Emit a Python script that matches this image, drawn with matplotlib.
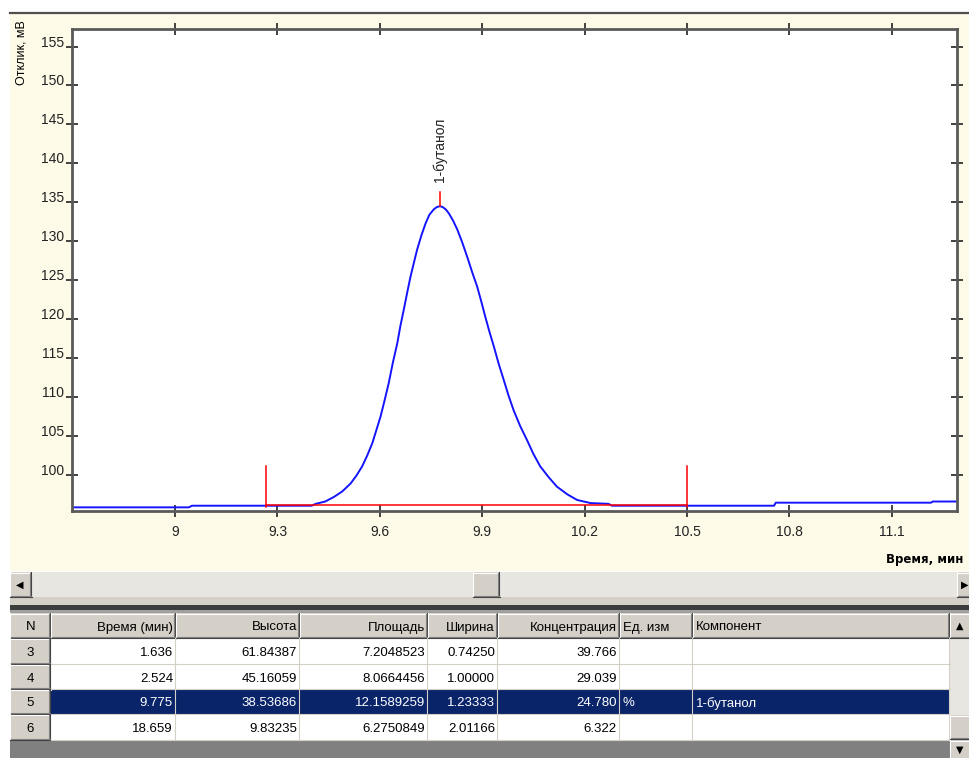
import matplotlib
matplotlib.use("Agg")
import matplotlib.pyplot as plt
from matplotlib.patches import Rectangle

plt.rcParams['font.family'] = ['Liberation Sans', 'DejaVu Sans']

# хроматограмма, точки (мин, мВ)
trace_time = [8.70, 9.04, 9.05, 9.40, 9.412, 9.44, 9.466, 9.49, 9.514, 9.531,
              9.548, 9.563, 9.578, 9.590, 9.602, 9.614, 9.626, 9.638, 9.651,
              9.660, 9.670, 9.680, 9.690, 9.700, 9.709, 9.722, 9.734, 9.745,
              9.758, 9.767, 9.776, 9.784, 9.793, 9.802, 9.814, 9.827, 9.841,
              9.856, 9.870, 9.885, 9.897, 9.909, 9.921, 9.934, 9.948, 9.963,
              9.977, 9.992, 10.011, 10.031, 10.050, 10.070, 10.095, 10.119,
              10.150, 10.178, 10.217, 10.270, 10.28, 10.755, 10.76, 11.215,
              11.22, 11.29]
trace_signal = [95.85, 95.85, 96.06, 96.06, 96.3, 96.6, 97.2, 97.9, 98.9, 99.9,
                101.1, 102.5, 104.1, 105.8, 107.5, 109.6, 111.8, 114.4, 116.9,
                119.1, 121.2, 123.4, 125.5, 127.3, 128.9, 130.8, 132.3, 133.4,
                134.1, 134.4, 134.5, 134.4, 134.1, 133.6, 132.7, 131.5, 129.9,
                128.0, 126.1, 124.2, 122.3, 120.3, 118.4, 116.5, 114.3, 112.2,
                110.2, 108.3, 106.3, 104.5, 102.7, 101.1, 99.7, 98.5,
                97.5, 96.8, 96.4, 96.3, 96.06, 96.06, 96.45, 96.45,
                96.6, 96.6]

peak_name = '1-бутанол'
apex_time = 9.776
apex_height = 134.5
apex_mark_top = 136.3
peak_start = 9.265
peak_end = 10.50
baseline_level = 96.15
mark_bottom = 95.9
mark_top = 101.15

x_ticks = [9.0, 9.3, 9.6, 9.9, 10.2, 10.5, 10.8, 11.1]
x_tick_labels = ['9', '9.3', '9.6', '9.9', '10.2', '10.5', '10.8', '11.1']
y_ticks = [100, 105, 110, 115, 120, 125, 130, 135, 140, 145, 150, 155]

# таблица пиков
col_names = ['N', 'Время (мин)', 'Высота', 'Площадь', 'Ширина',
             'Концентрация', 'Ед. изм', 'Компонент']
peak_n = ['3', '4', '5', '6']
peak_time = ['1.636', '2.524', '9.775', '18.659']
peak_height = ['61.84387', '45.16059', '38.53686', '9.83235']
peak_area = ['7.2048523', '8.0664456', '12.1589259', '6.2750849']
peak_width = ['0.74250', '1.00000', '1.23333', '2.01166']
peak_conc = ['39.766', '29.039', '24.780', '6.322']
peak_unit = ['', '', '%', '']
peak_comp = ['', '', '1-бутанол', '']
selected = 2

W, H = 970, 758
BEIGE = '#FDFAE8'
FACE = '#D4D0C8'
NAVY = '#0A246A'

fig = plt.figure(figsize=(W / 100, H / 100), dpi=100, facecolor='white')

# фон окна в пикселях
bg = fig.add_axes([0, 0, 1, 1], zorder=0)
bg.set_xlim(0, W)
bg.set_ylim(H, 0)
bg.axis('off')


def rect(x0, y0, x1, y1, fc, ec='none', lw=0.7):
    bg.add_patch(Rectangle((x0, y0), x1 - x0, y1 - y0, fc=fc, ec=ec, lw=lw))


def button(x0, y0, x1, y1):
    rect(x0, y0, x1, y1, FACE)
    bg.plot([x0, x1], [y0 + 0.5, y0 + 0.5], color='white', lw=0.8)
    bg.plot([x0 + 0.5, x0 + 0.5], [y0, y1], color='white', lw=0.8)
    bg.plot([x0, x1], [y1 - 0.5, y1 - 0.5], color='#404040', lw=0.8)
    bg.plot([x1 - 0.5, x1 - 0.5], [y0, y1], color='#404040', lw=0.8)
    bg.plot([x0 + 1, x1 - 1], [y1 - 1.5, y1 - 1.5], color='#808080', lw=0.8)
    bg.plot([x1 - 1.5, x1 - 1.5], [y0 + 1, y1 - 1], color='#808080', lw=0.8)


rect(10, 12, W, 571, BEIGE)
bg.plot([10, W], [13, 13], color='#505050', lw=1.6)

# горизонтальная полоса прокрутки
rect(10, 572, W, 597, '#E8E6E0')
button(10, 572, 32, 597)
bg.text(20, 584.5, '◀', fontsize=7, ha='center', va='center', family='DejaVu Sans')
button(473, 572, 500, 597)
button(957, 572, W + 5, 597)
bg.text(965, 584.5, '▶', fontsize=7, ha='center', va='center', family='DejaVu Sans')
rect(10, 597, W, 605, FACE)
rect(10, 605, W, 610, '#3C3C3C')
rect(10, 610, W, 613, '#A0A0A0')

# таблица
col_x = [10, 51, 176, 300, 428, 498, 620, 693, 950]
row_y = [613, 638, 664, 689, 714, 740]
right_cols = [1, 2, 3, 4, 5]
columns = [peak_n, peak_time, peak_height, peak_area, peak_width,
           peak_conc, peak_unit, peak_comp]

for j, name in enumerate(col_names):
    x0, x1 = col_x[j], col_x[j + 1]
    button(x0, row_y[0], x1, row_y[1])
    if j == 0:
        bg.text((x0 + x1) / 2, 626, name, fontsize=9.5, ha='center', va='center_baseline')
    elif j in right_cols:
        bg.text(x1 - 3, 626, name, fontsize=9.5, ha='right', va='center_baseline')
    else:
        bg.text(x0 + 3, 626, name, fontsize=9.5, ha='left', va='center_baseline')

for i in range(len(peak_n)):
    y0, y1 = row_y[i + 1], row_y[i + 2]
    yc = (y0 + y1) / 2 + 0.5
    row_fc = NAVY if i == selected else 'white'
    rect(col_x[1], y0, col_x[-1], y1, row_fc)
    button(col_x[0], y0, col_x[1], y1)
    bg.plot([col_x[1], col_x[-1]], [y1 - 0.5, y1 - 0.5], color=FACE, lw=0.8)
    for j in range(1, len(col_names)):
        x0, x1 = col_x[j], col_x[j + 1]
        bg.plot([x1 - 0.5, x1 - 0.5], [y0, y1], color=FACE, lw=0.8)
    tc = 'white' if i == selected else 'black'
    for j, col in enumerate(columns):
        x0, x1 = col_x[j], col_x[j + 1]
        if j == 0:
            bg.text((x0 + x1) / 2, yc, col[i], fontsize=9.5, ha='center', va='center_baseline')
        elif j in right_cols:
            bg.text(x1 - 3, yc, col[i], fontsize=9.5, ha='right', va='center_baseline', color=tc)
        else:
            bg.text(x0 + 3, yc, col[i], fontsize=9.5, ha='left', va='center_baseline', color=tc)

rect(10, 741, 950, H, '#808080')

# вертикальная полоса прокрутки таблицы
rect(950, 613, W, H, '#E8E6E0')
button(950, 613, W + 3, 638)
bg.text(960, 625.5, '▲', fontsize=7, ha='center', va='center', family='DejaVu Sans')
button(950, 715, W + 3, 739)
button(950, 740, W + 3, H + 3)
bg.text(960, 750, '▼', fontsize=7, ha='center', va='center', family='DejaVu Sans')

# график
ax = fig.add_axes([72 / W, 1 - 510.7 / H, 885 / W, 481.7 / H], zorder=2)
ax.set_facecolor('white')
ax.plot(trace_time, trace_signal, color='#1414FF', lw=1.4)
ax.plot([peak_start, peak_end], [baseline_level, baseline_level], color='red', lw=1.1)
ax.plot([peak_start, peak_start], [mark_bottom, mark_top], color='red', lw=1.1)
ax.plot([peak_end, peak_end], [mark_bottom, mark_top], color='red', lw=1.1)
ax.plot([apex_time, apex_time], [apex_height, apex_mark_top], color='red', lw=1.1)
ax.text(apex_time, 137.6, peak_name, rotation=90, ha='center', va='bottom',
        fontsize=10, color='#222222')

ax.set_xlim(8.698, 11.291)
ax.set_ylim(95.42, 157.25)
ax.set_xticks(x_ticks)
ax.set_xticklabels(x_tick_labels)
ax.set_yticks(y_ticks)
ax.tick_params(direction='inout', length=9, width=1.2, color='#222222',
               labelsize=10, labelcolor='#222222', top=True, right=True)
ax.tick_params(axis='x', pad=6)
ax.tick_params(axis='y', pad=1)
for lab in ax.get_yticklabels():
    lab.set_va('baseline')
for sp in ax.spines.values():
    sp.set_color('#5A5A5A')
    sp.set_linewidth(2)

ax.set_ylabel('Отклик, мВ', fontsize=9, loc='top')
ax.yaxis.set_label_coords(-0.0508, 1.0187)
ax.set_xlabel('Время, мин', fontsize=8.5, fontweight='bold', family='DejaVu Sans',
              ha='left', va='top')
ax.xaxis.set_label_coords(0.9198, -0.0878)

fig.savefig('out.png', dpi=100, facecolor='white')
